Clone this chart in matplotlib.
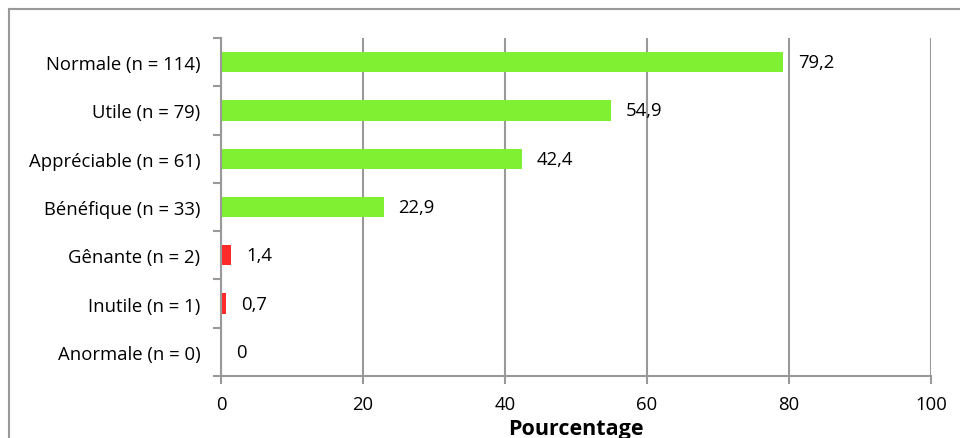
import matplotlib
matplotlib.use("Agg")
import matplotlib.pyplot as plt
from matplotlib.lines import Line2D
from matplotlib.transforms import offset_copy
import numpy as np

categories = ["Normale (n = 114)", "Utile (n = 79)", "Appréciable (n = 61)",
              "Bénéfique (n = 33)", "Gênante (n = 2)", "Inutile (n = 1)", "Anormale (n = 0)"]
values = [79.2, 54.9, 42.4, 22.9, 1.4, 0.7, 0]
labels = ["79,2", "54,9", "42,4", "22,9", "1,4", "0,7", "0"]
colors = ["#80F033", "#80F033", "#80F033", "#80F033", "#FF2B2B", "#FF2B2B", "#FF2B2B"]
xticks = [0, 20, 40, 60, 80, 100]

plt.rcParams['font.family'] = ['Open Sans', 'DejaVu Sans']
W, H = 960, 439
fig = plt.figure(figsize=(W/100, H/100), dpi=100)
ax = fig.add_axes([221/W, 1-377/H, (931-221)/W, (377-39)/H])

grey = "#999999"
fs = 13.3
y = np.arange(len(categories))
ax.barh(y, values, height=0.42, color=colors, zorder=3)
ax.set_ylim(len(categories)-0.5, -0.5)
ax.set_xlim(0, 100)
ax.set_xticks(xticks)
ax.set_xticklabels([str(t) for t in xticks], fontsize=fs)
ax.set_yticks(y)
ax.set_yticklabels(categories, fontsize=fs)
ax.tick_params(axis='y', which='major', length=0, pad=15)
ax.set_yticks(np.arange(-0.5, len(categories)), minor=True)
ax.tick_params(axis='y', which='minor', length=6, width=1.5, color=grey, direction='out')
ax.tick_params(axis='x', length=6, width=1.5, color=grey, direction='out', pad=8)
ax.grid(axis='x', color=grey, linewidth=1.5, zorder=0)
for s in ['top', 'right']:
    ax.spines[s].set_visible(False)
for s in ['left', 'bottom']:
    ax.spines[s].set_color(grey)
    ax.spines[s].set_linewidth(1.5)
    ax.spines[s].set_zorder(4)

tr = offset_copy(ax.transData, fig=fig, x=15, y=0, units='dots')
for yi, v, lab in zip(y, values, labels):
    ax.text(v, yi, lab, transform=tr, va='center', ha='left', fontsize=fs)

ax.set_xlabel("Pourcentage", fontsize=15.5, fontweight='bold', labelpad=3)

fig.add_artist(Line2D([9/W, 9/W], [0, 1-10/H], transform=fig.transFigure, color=grey, lw=1.5))
fig.add_artist(Line2D([9/W, 1], [1-10/H, 1-10/H], transform=fig.transFigure, color=grey, lw=1.5))

fig.savefig("out.png", dpi=100)
